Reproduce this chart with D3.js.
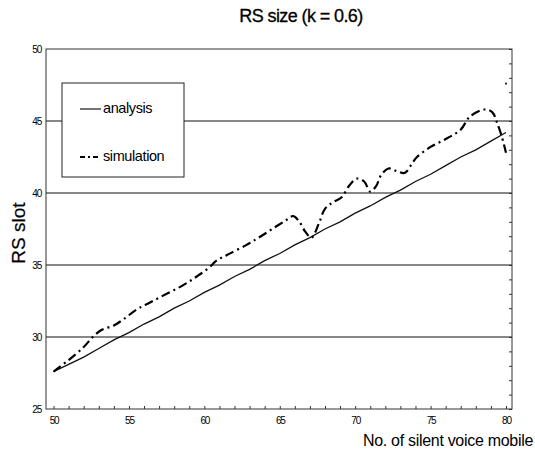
<!DOCTYPE html>
<html><head><meta charset="utf-8">
<script src="https://cdn.jsdelivr.net/npm/d3@7"></script>
<style>body{margin:0;background:#fff}svg{display:block}</style>
</head><body>
<svg id="c" width="535" height="461"></svg>
<script>
const xTicks = [50,55,60,65,70,75,80];
const yTicks = [25,30,35,40,45,50];
const gridValues = [30,35,40,45];
const anaX = [50,51,52,53,54,55,56,57,58,59,60,61,62,63,64,65,66,67,68,69,70,71,72,73,74,75,76,77,78,79,80];
const anaY = [27.6,28.1,28.6,29.2,29.8,30.3,30.9,31.4,32.0,32.5,33.1,33.6,34.2,34.7,35.3,35.8,36.4,36.9,37.5,38.0,38.6,39.1,39.7,40.2,40.8,41.3,41.9,42.5,43.0,43.6,44.2];
const simX = [50,51,52,52.6,53.2,54.0,54.6,55.5,56.4,57.5,58.6,59.5,60.3,60.8,61.5,62.8,63.6,64.5,65.4,65.9,66.3,66.7,67.1,67.6,68.0,68.6,69.1,69.6,70.1,70.6,71.0,71.4,71.7,72.2,72.8,73.3,73.8,74.1,75.0,76.1,77.0,77.6,78.6,79.1,79.4,79.7,80.0];
const simY = [27.6,28.4,29.3,30.0,30.5,30.8,31.2,31.9,32.4,33.0,33.6,34.2,34.8,35.3,35.7,36.4,36.9,37.5,38.1,38.4,38.0,37.3,36.9,37.9,38.9,39.4,39.7,40.5,41.0,40.8,40.1,40.5,41.2,41.7,41.5,41.4,42.1,42.5,43.2,43.8,44.4,45.3,45.8,45.6,44.9,44.0,42.8];
const strayX = [80.0];
const strayY = [47.6];
const seriesNames = ["analysis","simulation"];

const svg = d3.select("#c");
const L=46, R=512, T=49, B=409;
const x = d3.scaleLinear().domain([49.5,80.4]).range([L,R]);
const y = d3.scaleLinear().domain([25,50]).range([B,T]);
const font = "'Liberation Sans', Arial, sans-serif";

// title
svg.append("text").attr("x",301).attr("y",22).attr("text-anchor","middle")
  .attr("font-family",font).attr("font-size",18).attr("letter-spacing",-0.6)
  .attr("stroke","#000").attr("stroke-width",0.3).text("RS size (k = 0.6)");

// gridlines
svg.append("g").selectAll("line").data(gridValues).join("line")
  .attr("x1",L).attr("x2",R).attr("y1",d=>y(d)).attr("y2",d=>y(d))
  .attr("stroke","#111").attr("stroke-width",1.2);

// frame
svg.append("rect").attr("x",L).attr("y",T).attr("width",R-L).attr("height",B-T)
  .attr("fill","none").attr("stroke","#333").attr("stroke-width",1);

// bottom axis (inner minor ticks)
const xAxis = d3.axisBottom(x).tickValues(d3.range(50,81,1)).tickSize(-3).tickFormat("");
const gx = svg.append("g").attr("transform",`translate(0,${B})`).call(xAxis);
gx.select(".domain").remove();
gx.selectAll("line").attr("stroke","#333");
const xl = d3.axisBottom(x).tickValues(xTicks).tickSize(0).tickPadding(8);
const gxl = svg.append("g").attr("transform",`translate(0,${B})`).call(xl);
gxl.select(".domain").remove();
gxl.selectAll("text").attr("font-family",font).attr("font-size",10).attr("letter-spacing",-1.2);

// left axis labels
const yl = d3.axisLeft(y).tickValues(yTicks).tickSize(0).tickPadding(5);
const gyl = svg.append("g").attr("transform",`translate(${L},0)`).call(yl);
gyl.select(".domain").remove();
gyl.selectAll("text").attr("font-family",font).attr("font-size",10).attr("letter-spacing",-1.2);

// right axis inner ticks
const yr = d3.axisRight(y).tickValues(d3.range(25,51,1)).tickSize(-3).tickFormat("");
const gyr = svg.append("g").attr("transform",`translate(${R},0)`).call(yr);
gyr.select(".domain").remove();
gyr.selectAll("line").attr("stroke","#333");

// lines
const ana = anaX.map((d,i)=>[d,anaY[i]]);
const sim = simX.map((d,i)=>[d,simY[i]]);
const line = d3.line().x(d=>x(d[0])).y(d=>y(d[1]));
svg.append("path").attr("d",line(ana)).attr("fill","none").attr("stroke","#111").attr("stroke-width",1.3);
svg.append("path").attr("d",line.curve(d3.curveCatmullRom)(sim)).attr("fill","none")
  .attr("stroke","#000").attr("stroke-width",2.2).attr("stroke-dasharray","9,4,2,4");
svg.append("g").selectAll("circle").data(strayX.map((d,i)=>[d,strayY[i]])).join("circle")
  .attr("cx",d=>x(d[0])).attr("cy",d=>y(d[1])).attr("r",1.1).attr("fill","#222");

// legend
const lg = svg.append("g");
lg.append("rect").attr("x",62).attr("y",83).attr("width",122).attr("height",94)
  .attr("fill","#fff").attr("stroke","#222").attr("stroke-width",1);
const legY=[109,157];
lg.selectAll("line.s").data(seriesNames).join("line")
  .attr("x1",80).attr("x2",101).attr("y1",(d,i)=>legY[i]).attr("y2",(d,i)=>legY[i])
  .attr("stroke","#000").attr("stroke-width",(d,i)=>i?1.8:1.1)
  .attr("stroke-dasharray",(d,i)=>i?"5,3,2,3":null);
lg.selectAll("text").data(seriesNames).join("text")
  .attr("x",103).attr("y",(d,i)=>legY[i]+4).attr("font-family",font).attr("font-size",14.5)
  .attr("letter-spacing",-0.4).text(d=>d);

// axis titles
svg.append("text").attr("x",533).attr("y",446).attr("text-anchor","end")
  .attr("font-family",font).attr("font-size",16).attr("letter-spacing",-0.3).text("No. of silent voice mobile");
svg.append("text").attr("transform","translate(25,233) rotate(-90)").attr("text-anchor","middle")
  .attr("font-family",font).attr("font-size",19).attr("stroke","#000").attr("stroke-width",0.2).text("RS slot");
</script>
</body></html>
